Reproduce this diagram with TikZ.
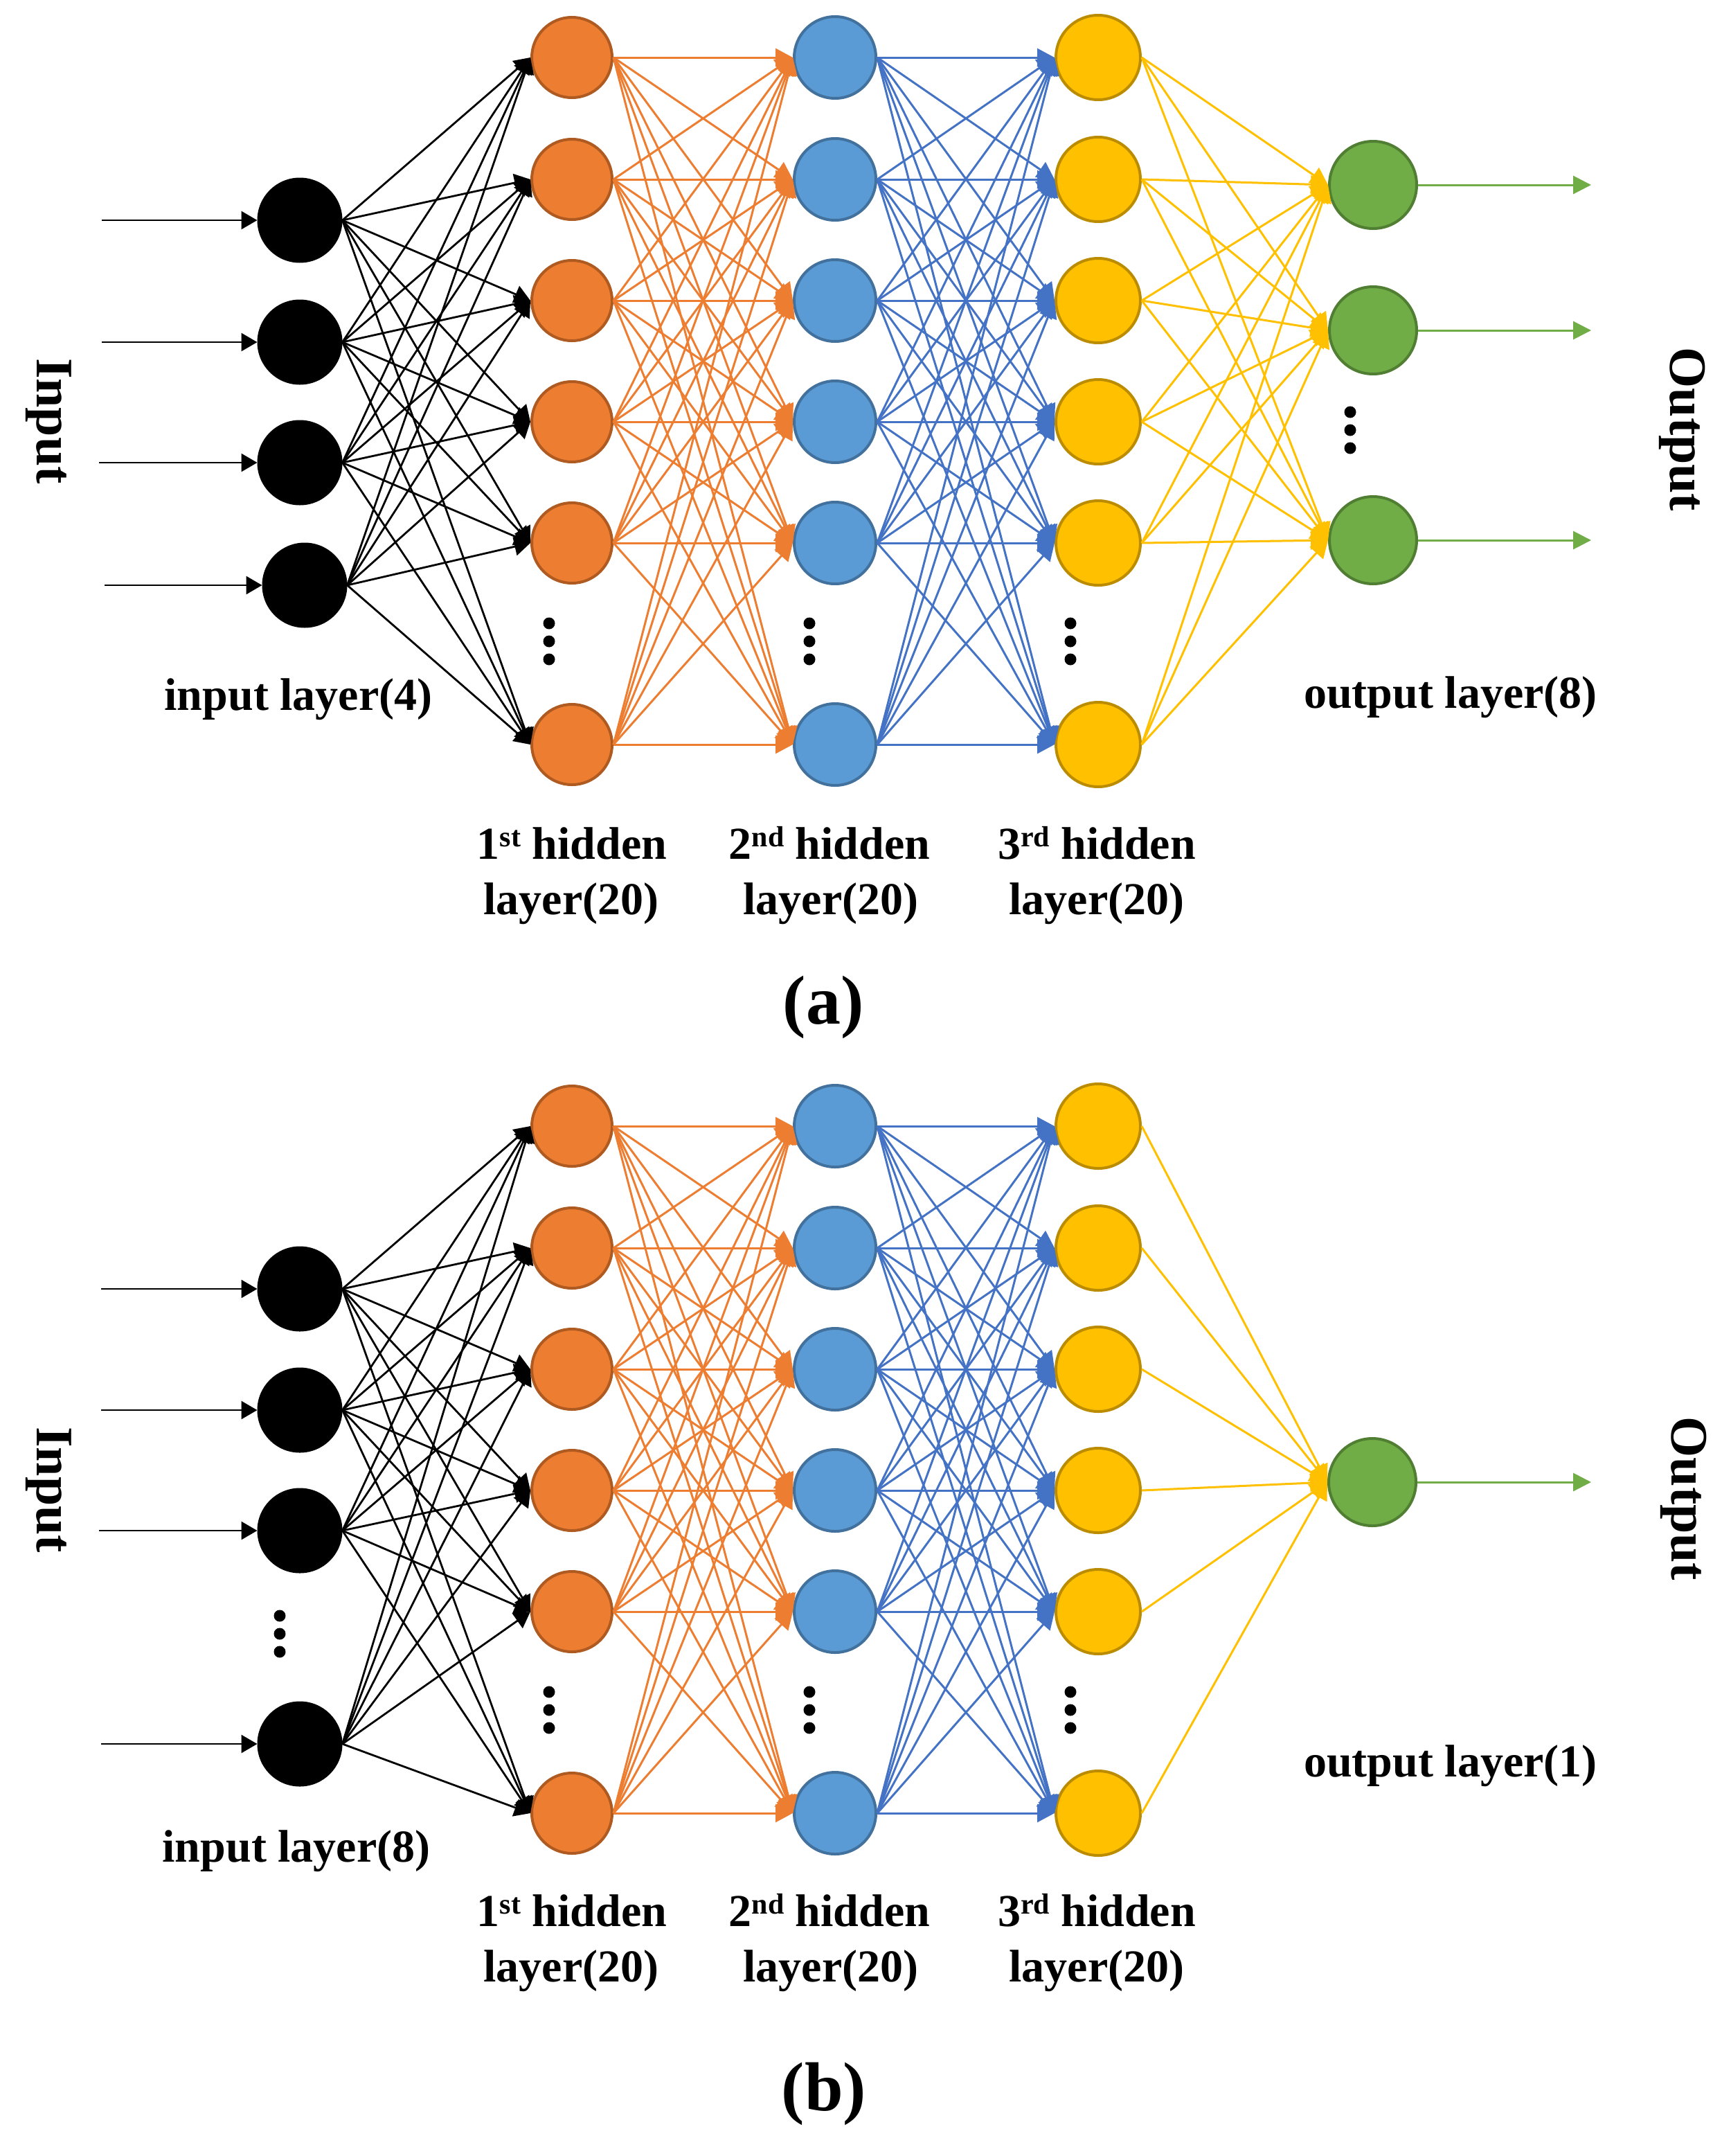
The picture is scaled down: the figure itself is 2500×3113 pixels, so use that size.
\documentclass[tikz,border=0pt]{standalone}
\usepackage{fontspec}
\setmainfont{Liberation Serif}
\usetikzlibrary{arrows.meta}
\definecolor{cor}{HTML}{ED7D31}
\definecolor{corb}{HTML}{AE5A21}
\definecolor{cbl}{HTML}{5B9BD5}
\definecolor{cblb}{HTML}{41719C}
\definecolor{cbll}{HTML}{4472C4}
\definecolor{cye}{HTML}{FFC000}
\definecolor{cyeb}{HTML}{BC8C00}
\definecolor{cgr}{HTML}{70AD47}
\definecolor{cgrb}{HTML}{507E32}
\newcommand{\supx}[1]{\raisebox{18pt}{\fontsize{42pt}{42pt}\selectfont #1}}
\begin{document}
\begin{tikzpicture}[x=1pt,y=-1pt,
  inode/.style={circle,fill=black,draw=none,minimum size=123pt,inner sep=0pt,outer sep=0pt},
  honode/.style={circle,fill=cor,draw=corb,line width=4pt,minimum size=116pt,inner sep=0pt},
  htnode/.style={circle,fill=cbl,draw=cblb,line width=4pt,minimum size=118pt,inner sep=0pt},
  hrnode/.style={circle,fill=cye,draw=cyeb,line width=4pt,minimum size=122pt,inner sep=0pt},
  onode/.style={circle,fill=cgr,draw=cgrb,line width=4pt,minimum size=126pt,inner sep=0pt},
  bconn/.style={draw=black,line width=2.8pt,-{Triangle[length=23pt,width=26pt]}},
  oconn/.style={draw=cor,line width=3pt,-{Triangle[length=25pt,width=26pt]}},
  tconn/.style={draw=cbll,line width=3pt,-{Triangle[length=25pt,width=26pt]}},
  rconn/.style={draw=cye,line width=3pt,-{Triangle[length=25pt,width=26pt]}},
  gconn/.style={draw=cgr,line width=3pt,-{Triangle[length=26pt,width=26pt]}},
  lbl/.style={font=\bfseries\fontsize{66pt}{80pt}\selectfont,anchor=base,inner sep=0pt},
  side/.style={font=\bfseries\fontsize{76pt}{90pt}\selectfont,rotate=-90,inner sep=0pt,anchor=center},
  capt/.style={font=\bfseries\fontsize{100pt}{120pt}\selectfont,anchor=base,inner sep=0pt},
  vdot/.style={fill=black}
]
\useasboundingbox (0,0) rectangle (2500,3113);
\fill[white] (0,0) rectangle (2500,3113);

% ================= panel (a) =================
\foreach \y [count=\i] in {83,259,434,609,784,1075} {
  \node[honode] (a-h1-\i) at (826,\y) {};
  \node[htnode] (a-h2-\i) at (1206,\y) {};
  \node[hrnode] (a-h3-\i) at (1586,\y) {};
}
\node[inode] (a-in-1) at (433,318) {};
\node[inode] (a-in-2) at (433,494) {};
\node[inode] (a-in-3) at (433,668) {};
\node[inode] (a-in-4) at (440,845) {};
\coordinate (a-s-1) at (147,318);
\coordinate (a-s-2) at (147,494);
\coordinate (a-s-3) at (143,668);
\coordinate (a-s-4) at (151,845);
\node[onode] (a-o-1) at (1983,267) {};
\node[onode] (a-o-2) at (1983,477) {};
\node[onode] (a-o-3) at (1983,780) {};
\coordinate (a-e-1) at (2298,267);
\coordinate (a-e-2) at (2298,477);
\coordinate (a-e-3) at (2298,780);

\foreach \i in {1,...,4} {
  \draw[bconn] (a-s-\i) -- (a-in-\i.west);
  \foreach \j in {1,...,6} { \draw[bconn] (a-in-\i.east) -- (a-h1-\j.west); }
}
\foreach \i in {1,...,6} {
  \foreach \j in {1,...,6} {
    \draw[oconn] (a-h1-\i.east) -- (a-h2-\j.west);
    \draw[tconn] (a-h2-\i.east) -- (a-h3-\j.west);
  }
  \foreach \j in {1,...,3} { \draw[rconn] (a-h3-\i.east) -- (a-o-\j.west); }
}
\foreach \j in {1,...,3} { \draw[gconn] (a-o-\j.east) -- (a-e-\j); }

% dots (a)
\foreach \x/\y in {793/926,1169/926,1546/926,1950/621} {
  \foreach \d in {-26,0,26} { \fill[vdot] (\x,\y+\d) circle (8.5pt); }
}

% labels (a)
\node[side] (a-inlab) at (70,608) {Input};
\node[side] (a-outlab) at (2430,620) {Output};
\node[lbl] (a-il) at (431,1025) {input layer(4)};
\node[lbl] (a-ol) at (2095,1022) {output layer(8)};
\node[lbl] (a-l1a) at (826,1240) {1\supx{st} hidden};
\node[lbl] (a-l1b) at (825,1320) {layer(20)};
\node[lbl] (a-l2a) at (1198,1240) {2\supx{nd} hidden};
\node[lbl] (a-l2b) at (1200,1320) {layer(20)};
\node[lbl] (a-l3a) at (1584,1240) {3\supx{rd} hidden};
\node[lbl] (a-l3b) at (1584,1320) {layer(20)};
\node[capt] (a-cap) at (1189,1478) {(a)};

% ================= panel (b) =================
\foreach \y [count=\i] in {1626,1802,1977,2152,2327,2618} {
  \node[honode] (b-h1-\i) at (826,\y) {};
  \node[htnode] (b-h2-\i) at (1206,\y) {};
  \node[hrnode] (b-h3-\i) at (1586,\y) {};
}
\node[inode] (b-in-1) at (433,1861) {};
\node[inode] (b-in-2) at (433,2036) {};
\node[inode] (b-in-3) at (433,2210) {};
\node[inode] (b-in-4) at (433,2518) {};
\coordinate (b-s-1) at (146,1861);
\coordinate (b-s-2) at (146,2036);
\coordinate (b-s-3) at (143,2210);
\coordinate (b-s-4) at (146,2518);
\node[onode] (b-o-1) at (1982,2140) {};
\coordinate (b-e-1) at (2298,2140);

\foreach \i in {1,...,4} {
  \draw[bconn] (b-s-\i) -- (b-in-\i.west);
  \foreach \j in {1,...,6} { \draw[bconn] (b-in-\i.east) -- (b-h1-\j.west); }
}
\foreach \i in {1,...,6} {
  \foreach \j in {1,...,6} {
    \draw[oconn] (b-h1-\i.east) -- (b-h2-\j.west);
    \draw[tconn] (b-h2-\i.east) -- (b-h3-\j.west);
  }
  \draw[rconn] (b-h3-\i.east) -- (b-o-1.west);
}
\draw[gconn] (b-o-1.east) -- (b-e-1);

% dots (b)
\foreach \x/\y in {404/2359,793/2469,1169/2469,1546/2469} {
  \foreach \d in {-26,0,26} { \fill[vdot] (\x,\y+\d) circle (8.5pt); }
}

% labels (b)
\node[side] (b-inlab) at (70,2151) {Input};
\node[side] (b-outlab) at (2432,2164) {Output};
\node[lbl] (b-il) at (428,2688) {input layer(8)};
\node[lbl] (b-ol) at (2095,2565) {output layer(1)};
\node[lbl] (b-l1a) at (826,2781) {1\supx{st} hidden};
\node[lbl] (b-l1b) at (825,2861) {layer(20)};
\node[lbl] (b-l2a) at (1198,2781) {2\supx{nd} hidden};
\node[lbl] (b-l2b) at (1200,2861) {layer(20)};
\node[lbl] (b-l3a) at (1584,2781) {3\supx{rd} hidden};
\node[lbl] (b-l3b) at (1584,2861) {layer(20)};
\node[capt] (b-cap) at (1190,3047) {(b)};
\end{tikzpicture}
\end{document}
